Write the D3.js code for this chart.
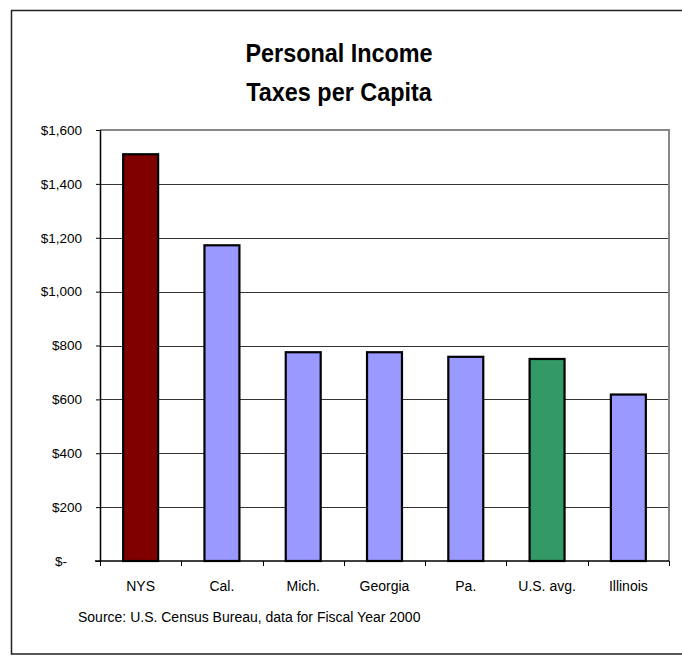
<!DOCTYPE html>
<html>
<head>
<meta charset="utf-8">
<script src="https://cdn.jsdelivr.net/npm/d3@7"></script>
<style>
  body { margin: 0; background: #fff; overflow: hidden; }
  svg { display: block; }
</style>
</head>
<body>
<div id="chart"></div>
<script>
// data
var categories = ["NYS", "Cal.", "Mich.", "Georgia", "Pa.", "U.S. avg.", "Illinois"];
var taxes = [1510, 1172, 775, 775, 758, 750, 618];
var barColors = ["#800000", "#9999ff", "#9999ff", "#9999ff", "#9999ff", "#339966", "#9999ff"];
var yTicks = [0, 200, 400, 600, 800, 1000, 1200, 1400, 1600];
var titleLines = ["Personal Income", "Taxes per Capita"];
var sourceNote = "Source: U.S. Census Bureau, data for Fiscal Year 2000";

var svgWidth = 682;
var svgHeight = 656;

var margin = { top: 130, right: 13, bottom: 95, left: 100 };
var width = svgWidth - margin.left - margin.right;
var height = svgHeight - margin.top - margin.bottom;

var svg = d3.select("#chart")
  .append("svg")
  .attr("width", svgWidth)
  .attr("height", svgHeight);

// outer frame (right edge runs off the picture)
svg.append("path")
  .attr("d", "M682,10.5 H11.5 V654 H682")
  .attr("fill", "none")
  .attr("stroke", "#222")
  .attr("stroke-width", 1.5);

// title, narrow bold look
svg.selectAll(".title")
  .data(titleLines)
  .enter()
  .append("text")
  .attr("class", "title")
  .attr("transform", (d, i) => `translate(339, ${62 + i * 39}) scale(0.9, 1)`)
  .attr("text-anchor", "middle")
  .attr("font-family", "'Liberation Sans Narrow', 'Arial Narrow', 'Liberation Sans', sans-serif")
  .attr("font-weight", "bold")
  .attr("font-size", "26px")
  .attr("fill", "#000")
  .text(d => d);

var chartGroup = svg.append("g")
  .attr("transform", `translate(${margin.left}, ${margin.top})`);

var x = d3.scaleBand()
  .domain(categories)
  .range([0, width])
  .paddingInner(0.57)
  .paddingOuter(0.285);

var y = d3.scaleLinear()
  .domain([0, 1600])
  .range([height, 0]);

// grid lines
chartGroup.append("g")
  .selectAll("line")
  .data(yTicks.filter(d => d > 0 && d < 1600))
  .enter()
  .append("line")
  .attr("x1", 0)
  .attr("x2", width)
  .attr("y1", d => Math.round(y(d)) + 0.5)
  .attr("y2", d => Math.round(y(d)) + 0.5)
  .attr("stroke", "#333")
  .attr("stroke-width", 1);

// plot frame, top and right in gray
chartGroup.append("path")
  .attr("d", `M0,${Math.round(y(1600))} H${width} V${height}`)
  .attr("fill", "none")
  .attr("stroke", "#888")
  .attr("stroke-width", 2);

// bars
chartGroup.selectAll(".bar")
  .data(taxes)
  .enter()
  .append("rect")
  .attr("class", "bar")
  .attr("x", (d, i) => x(categories[i]))
  .attr("y", d => y(d))
  .attr("width", x.bandwidth())
  .attr("height", d => height - y(d))
  .attr("fill", (d, i) => barColors[i])
  .attr("stroke", "#000")
  .attr("stroke-width", 2.2);

// y axis
var leftAxis = d3.axisLeft(y)
  .tickValues(yTicks)
  .tickSize(4)
  .tickPadding(14)
  .tickFormat(d => d === 0 ? "$-" : "$" + d3.format(",")(d));

var yAxis = chartGroup.append("g")
  .call(leftAxis);

yAxis.select(".domain").attr("stroke", "#000").attr("stroke-width", 1.5)
  .attr("d", `M0.5,0V${height}`);
yAxis.selectAll(".tick line").attr("stroke", "#000");
yAxis.selectAll(".tick text")
  .attr("font-family", "'Liberation Sans', Arial, sans-serif")
  .attr("font-size", "13.5px")
  .attr("fill", "#000");
yAxis.selectAll(".tick")
  .filter(d => d === 0)
  .select("text")
  .attr("dx", "-15px");

// x axis with ticks at the category boundaries
var bottomAxis = d3.axisBottom(x)
  .tickSize(0)
  .tickPadding(20);

var xAxis = chartGroup.append("g")
  .attr("transform", `translate(0, ${height})`)
  .call(bottomAxis);

xAxis.select(".domain").attr("stroke", "#000").attr("stroke-width", 1.5)
  .attr("d", `M-5,0H${width}`);
xAxis.selectAll(".tick text")
  .attr("font-family", "'Liberation Sans', Arial, sans-serif")
  .attr("font-size", "14px")
  .attr("fill", "#000");

var step = x.step();
xAxis.append("g")
  .selectAll("line")
  .data(d3.range(categories.length + 1))
  .enter()
  .append("line")
  .attr("x1", d => Math.round(d * step) + 0.5)
  .attr("x2", d => Math.round(d * step) + 0.5)
  .attr("y1", 0)
  .attr("y2", 5)
  .attr("stroke", "#000");

// source note
svg.append("text")
  .attr("x", 78)
  .attr("y", 622)
  .attr("font-family", "'Liberation Sans', Arial, sans-serif")
  .attr("font-size", "14px")
  .attr("fill", "#000")
  .text(sourceNote);
</script>
</body>
</html>
